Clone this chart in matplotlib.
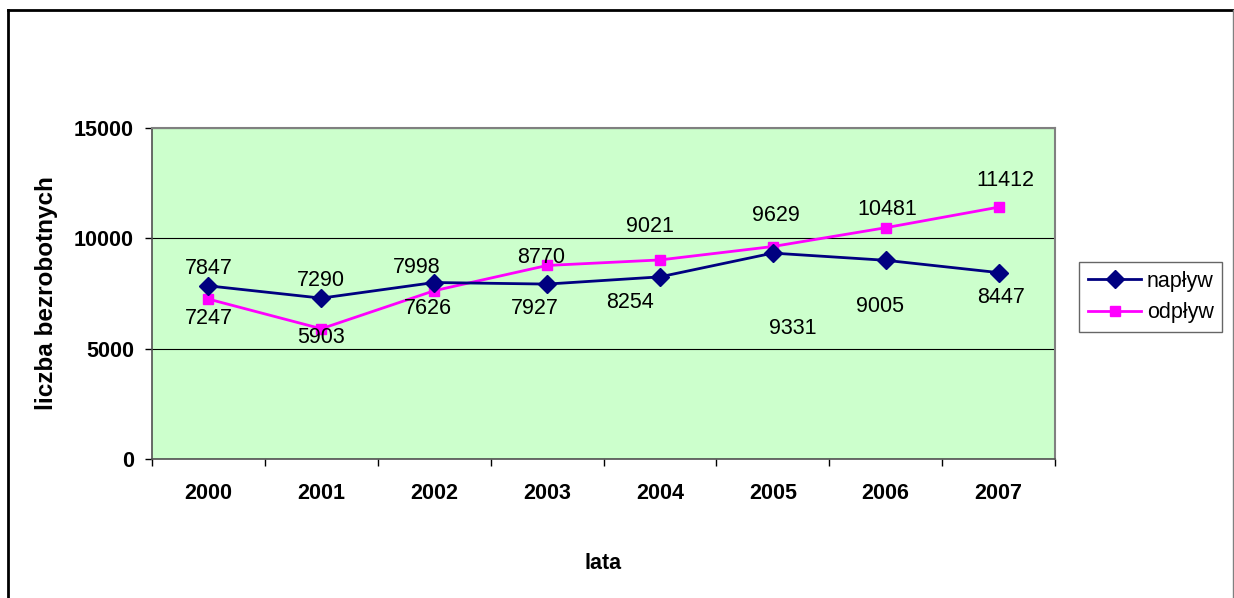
import matplotlib.pyplot as plt
from matplotlib.lines import Line2D

# dane
lata = ['2000', '2001', '2002', '2003', '2004', '2005', '2006', '2007']
naplyw = [7847, 7290, 7998, 7927, 8254, 9331, 9005, 8447]
odplyw = [7247, 5903, 7626, 8770, 9021, 9629, 10481, 11412]

# przesuniecia etykiet danych (w pikselach, dx, dy)
off_naplyw = [(0, 17), (0, 18), (-17, 15), (-12, -24), (-30, -26), (20, -75), (-6, -46), (3, -25)]
off_odplyw = [(0, -19), (0, -9), (-6, -18), (-6, 8), (-10, 33), (3, 31), (2, 18), (7, 27)]

plt.rcParams['font.family'] = ['Liberation Sans', 'DejaVu Sans']
FS = 15.5

fig = plt.figure(figsize=(12.34, 5.98), dpi=100)
ax = fig.add_axes([152 / 1234, 139 / 598, 903 / 1234, 331 / 598])
ax.set_facecolor('#CCFFCC')

x = list(range(len(lata)))
ax.plot(x, naplyw, color='#000080', lw=2, marker='D', ms=9, label='napływ', zorder=4)
ax.plot(x, odplyw, color='#FF00FF', lw=2, marker='s', ms=7, label='odpływ', zorder=3)

px = 0.72  # piksele -> punkty
for xi, v, (dx, dy) in zip(x, naplyw, off_naplyw):
    ax.annotate(str(v), (xi, v), xytext=(dx * px, dy * px), textcoords='offset points',
                ha='center', va='center', fontsize=FS, zorder=5)
for xi, v, (dx, dy) in zip(x, odplyw, off_odplyw):
    ax.annotate(str(v), (xi, v), xytext=(dx * px, dy * px), textcoords='offset points',
                ha='center', va='center', fontsize=FS, zorder=5)

ax.set_xlim(-0.5, len(lata) - 0.5)
ax.set_ylim(0, 15000)
ax.set_yticks([0, 5000, 10000, 15000])
ax.set_yticklabels(['0', '5000', '10000', '15000'], fontsize=FS, fontweight='bold')
ax.tick_params(axis='y', length=5, width=1, pad=8, direction='out')

ax.set_xticks(x)
ax.set_xticklabels(lata, fontsize=FS, fontweight='bold')
ax.set_xticks([i - 0.5 for i in range(len(lata) + 1)], minor=True)
ax.tick_params(axis='x', which='major', length=0, pad=17.5)
ax.tick_params(axis='x', which='minor', length=5, width=1, direction='out')

ax.grid(axis='y', color='black', lw=0.8)
ax.set_axisbelow(True)

for s in ['top', 'right']:
    ax.spines[s].set_color('#808080')
    ax.spines[s].set_linewidth(1.5)
for s in ['left', 'bottom']:
    ax.spines[s].set_color('#505050')
    ax.spines[s].set_linewidth(1.2)

ax.set_ylabel('liczba bezrobotnych', fontsize=17.5, fontweight='bold')
ax.yaxis.set_label_coords(-0.104, 0.5)
ax.set_xlabel('lata', fontsize=FS, fontweight='bold')
ax.xaxis.set_label_coords(0.4995, -0.284)

leg = fig.legend(loc='center left', bbox_to_anchor=(1079 / 1234, 1 - 297 / 598),
                 fontsize=FS, frameon=True, fancybox=False, handlelength=2.5,
                 handletextpad=0.25, labelspacing=0.5, borderpad=0.4, borderaxespad=0)
leg.get_frame().set_edgecolor('#404040')
leg.get_frame().set_linewidth(1)

# ramka wykresu
fig.add_artist(Line2D([8 / 1234, 1233 / 1234], [1 - 10 / 598, 1 - 10 / 598], color='black', lw=2))
fig.add_artist(Line2D([8 / 1234, 8 / 1234], [0, 1 - 10 / 598], color='black', lw=2))
fig.add_artist(Line2D([1233 / 1234, 1233 / 1234], [0, 1 - 10 / 598], color='#808080', lw=1))

fig.savefig('out.png', dpi=100)
